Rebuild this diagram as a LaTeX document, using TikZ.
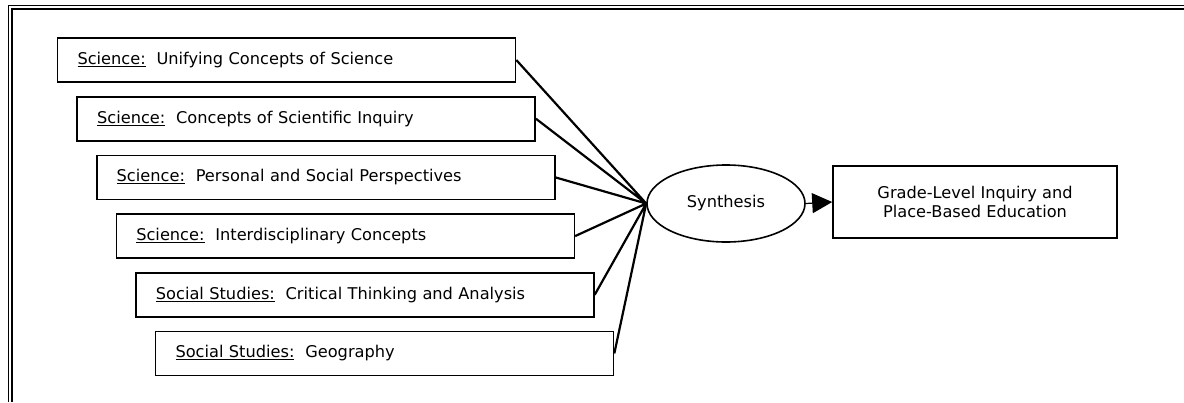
\documentclass[tikz,border=0pt]{standalone}
\usepackage{fontspec}
\setmainfont{DejaVu Sans}
\usetikzlibrary{arrows.meta,shapes.geometric}

\begin{document}
\begin{tikzpicture}[x=1pt,y=1pt,node distance=58.7pt,
  every node/.style={font=\fontsize{16.2}{19}\selectfont},
  box node/.style={draw,line width=1.6pt,rectangle,text width=418pt,inner xsep=20pt,minimum height=44pt,align=left},
  synth node/.style={draw,line width=1.6pt,ellipse,minimum width=158pt,minimum height=77pt,inner sep=0pt},
  goal node/.style={draw,line width=1.6pt,rectangle,minimum width=284pt,minimum height=72pt,align=center}]

  \useasboundingbox (0,0) rectangle (1184,-402);
  % double frame
  \draw[line width=1.3pt] (8.5,-402) -- (8.5,-5.5) -- (1184,-5.5);
  \draw[line width=1.3pt] (12,-402) -- (12,-9) -- (1184,-9);

  \node[box node] (1) at (286.5,-60) {\underline{Science:}\ \ Unifying Concepts of Science};
  \node[box node] (2) [below of=1,xshift=19.6pt] {\underline{Science:}\ \ Concepts of Scientific Inquiry};
  \node[box node] (3) [below of=2,xshift=19.6pt] {\underline{Science:}\ \ Personal and Social Perspectives};
  \node[box node] (4) [below of=3,xshift=19.6pt] {\underline{Science:}\ \ Interdisciplinary Concepts};
  \node[box node] (5) [below of=4,xshift=19.6pt] {\underline{Social Studies:}\ \ Critical Thinking and Analysis};
  \node[box node] (6) [below of=5,xshift=19.6pt] {\underline{Social Studies:}\ \ Geography};

  \node[synth node] (7) at (726,-203.5) {Synthesis};
  \node[goal node] (8) at (975,-202) {Grade-Level Inquiry and\\Place-Based Education};

  \path[draw,line width=2.2pt]
  (1.east) -- (7.west)
  (2.east) -- (7.west)
  (3.east) -- (7.west)
  (4.east) -- (7.west)
  (5.east) -- (7.west)
  (6.east) -- (7.west);
  \draw[-{Triangle[length=20pt,width=20pt]},line width=1.2pt] (7.east) -- (8.west);

\end{tikzpicture}
\end{document}
